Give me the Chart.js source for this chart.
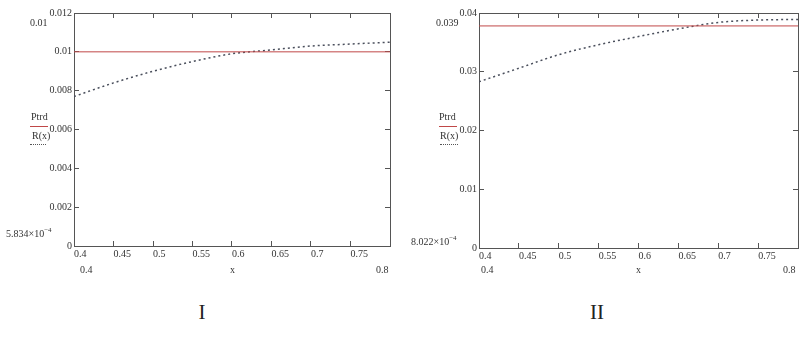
<!DOCTYPE html>
<html>
<head>
<meta charset="utf-8">
<script src="https://cdn.jsdelivr.net/npm/chart.js@4"></script>
<style>
    body { margin: 0; background: #fff; }
    #page { position: relative; width: 811px; height: 339px; overflow: hidden; font-family: "Liberation Serif", serif; color: #333; }
    canvas { position: absolute; top: 0; }
    .lbl { position: absolute; font-size: 10px; line-height: 12px; white-space: nowrap; transform: translateY(-50%); }
    .mark { position: absolute; height: 0; }
    .red { border-top: 1px solid #c04848; }
    .dot { border-top: 1px dotted #555; }
    .big { position: absolute; font-size: 21px; transform: translate(-50%, -50%); color: #222; }
</style>
</head>
<body>
<div id="page">
    <canvas id="chartI" width="400" height="290" style="left:0"></canvas>
    <canvas id="chartII" width="406" height="290" style="left:405px"></canvas>

    <div class="lbl" style="left:30px;top:23px">0.01</div>
    <div class="lbl" style="left:31px;top:117px">Ptrd</div>
    <div class="mark red" style="left:30px;top:126px;width:18px"></div>
    <div class="lbl" style="left:32px;top:136px">R(x)</div>
    <div class="mark dot" style="left:30px;top:144px;width:16px"></div>
    <div class="lbl" style="left:6px;top:232px">5.834×10<sup style="font-size:7px">−4</sup></div>
    <div class="lbl" style="left:80px;top:270px">0.4</div>
    <div class="lbl" style="left:230px;top:270px">x</div>
    <div class="lbl" style="left:376px;top:270px">0.8</div>
    <div class="big" style="left:202px;top:312px">I</div>

    <div class="lbl" style="left:436px;top:23px">0.039</div>
    <div class="lbl" style="left:439px;top:117px">Ptrd</div>
    <div class="mark red" style="left:439px;top:126px;width:18px"></div>
    <div class="lbl" style="left:440px;top:136px">R(x)</div>
    <div class="mark dot" style="left:440px;top:144px;width:18px"></div>
    <div class="lbl" style="left:411px;top:240px">8.022×10<sup style="font-size:7px">−4</sup></div>
    <div class="lbl" style="left:481px;top:270px">0.4</div>
    <div class="lbl" style="left:636px;top:270px">x</div>
    <div class="lbl" style="left:783px;top:270px">0.8</div>
    <div class="big" style="left:597px;top:312px">II</div>
</div>
<script>
const xValues = [0.4, 0.45, 0.5, 0.55, 0.6, 0.65, 0.7, 0.75, 0.8];
const rI = [0.0077, 0.0084, 0.0090, 0.0095, 0.0099, 0.0101, 0.0103, 0.0104, 0.0105];
const ptrdI = 0.01;
const rII = [0.0283, 0.0306, 0.0329, 0.0346, 0.0360, 0.0373, 0.0384, 0.0388, 0.0389];
const ptrdII = 0.0378;

function makeChart(id, rValues, ptrd, yMax, yStep, area) {
    const canvas = document.getElementById(id);
    const W = canvas.width, H = canvas.height;
    const axisColor = '#555';
    const tickFont = { family: 'Liberation Serif', size: 10 };
    const inner = { display: true, drawOnChartArea: false, drawTicks: true, tickLength: -5, color: axisColor };
    const border = { display: true, color: axisColor, width: 1 };

    new Chart(canvas, {
        type: 'line',
        data: {
            datasets: [
                {
                    label: 'Ptrd',
                    data: [{ x: xValues[0], y: ptrd }, { x: xValues[xValues.length - 1], y: ptrd }],
                    borderColor: '#c04848',
                    borderWidth: 1,
                    pointRadius: 0
                },
                {
                    label: 'R(x)',
                    data: xValues.map((x, i) => ({ x: x, y: rValues[i] })),
                    borderColor: '#4a4f5c',
                    borderWidth: 1.5,
                    borderDash: [2, 3],
                    pointRadius: 0,
                    cubicInterpolationMode: 'monotone'
                }
            ]
        },
        options: {
            responsive: false,
            animation: false,
            devicePixelRatio: 1,
            layout: { padding: { left: 0, top: area.top, right: W - area.right, bottom: 0 } },
            plugins: { legend: { display: false }, tooltip: { enabled: false } },
            scales: {
                x: {
                    type: 'linear', position: 'bottom', min: 0.4, max: 0.8,
                    grid: inner, border: border,
                    ticks: {
                        stepSize: 0.05, color: '#333', font: tickFont, padding: 7,
                        maxRotation: 0, align: 'start',
                        callback: v => Math.abs(v - 0.8) < 1e-9 ? '' : String(+v.toFixed(2))
                    },
                    afterFit: s => { s.height = H - area.bottom; }
                },
                x2: {
                    type: 'linear', position: 'top', min: 0.4, max: 0.8,
                    grid: inner, border: border,
                    ticks: { stepSize: 0.05, display: false },
                    afterFit: s => { s.height = 0; }
                },
                y: {
                    type: 'linear', position: 'left', min: 0, max: yMax,
                    grid: inner, border: border,
                    ticks: {
                        stepSize: yStep, color: '#333', font: tickFont, padding: 7,
                        callback: v => String(+v.toFixed(3))
                    },
                    afterFit: s => { s.width = area.left; }
                },
                y2: {
                    type: 'linear', position: 'right', min: 0, max: yMax,
                    grid: inner, border: border,
                    ticks: { stepSize: yStep, display: false },
                    afterFit: s => { s.width = 0; }
                }
            }
        }
    });
}

makeChart('chartI', rI, ptrdI, 0.012, 0.002, { left: 74, right: 390, top: 9, bottom: 246 });
makeChart('chartII', rII, ptrdII, 0.04, 0.01, { left: 74, right: 393, top: 9, bottom: 248 });
</script>
</body>
</html>
